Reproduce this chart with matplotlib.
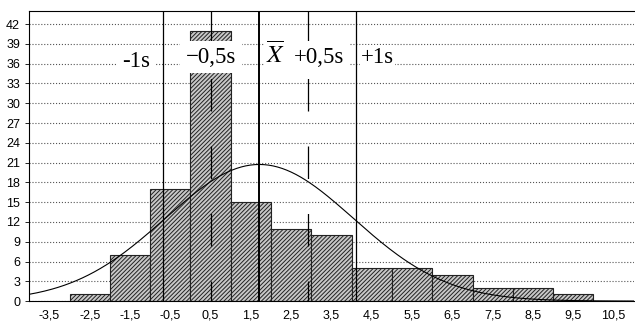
import numpy as np
import matplotlib
matplotlib.use('Agg')
import matplotlib.pyplot as plt

# histogram data (bin edges are integers, labels at bin centres)
bin_left = [-3, -2, -1, 0, 1, 2, 3, 4, 5, 6, 7, 8, 9]
counts = [1, 7, 17, 41, 15, 11, 10, 5, 5, 4, 2, 2, 1]
tick_pos = [-3.5, -2.5, -1.5, -0.5, 0.5, 1.5, 2.5, 3.5, 4.5, 5.5, 6.5, 7.5, 8.5, 9.5, 10.5]
tick_lab = ['-3,5', '-2,5', '-1,5', '-0,5', '0,5', '1,5', '2,5', '3,5',
            '4,5', '5,5', '6,5', '7,5', '8,5', '9,5', '10,5']

# mean / sd marks and the fitted normal curve
mean = 1.71
sd = 2.40
curve_sd = 2.33
n_total = sum(counts)

plt.rcParams['hatch.linewidth'] = 0.7
plt.rcParams['font.family'] = ['Liberation Sans', 'DejaVu Sans']
plt.rcParams['mathtext.fontset'] = 'stix'
fig = plt.figure(figsize=(6.35, 3.22), dpi=100)
ax = fig.add_axes([0.046, 0.065, 0.952, 0.901])

ax.bar(bin_left, counts, width=1, align='edge', color='#c8c8c8',
       edgecolor='#222222', hatch='////////', linewidth=0.8, zorder=2)

xs = np.linspace(-4, 11, 400)
ys = n_total / (curve_sd * np.sqrt(2 * np.pi)) * np.exp(-0.5 * ((xs - mean) / curve_sd) ** 2)
ax.plot(xs, ys, color='black', linewidth=0.8, zorder=4)

# vertical markers, drawn top-down so dashes start at the top
dash = (0, (26, 28))
for k, ls, lw in [(-1, '-', 0.9), (-0.5, dash, 0.9), (0, '-', 1.4),
                  (0.5, dash, 0.9), (1, '-', 0.9)]:
    xv = mean + k * sd
    ax.plot([xv, xv], [44, 0], color='black', linewidth=lw, linestyle=ls, zorder=3)

serif = ['Liberation Serif', 'DejaVu Serif']
box = dict(facecolor='white', edgecolor='none', boxstyle='square,pad=0.25')
ax.text(mean - sd - 0.3, 36.4, '-1s', ha='right', va='center', family=serif,
        fontsize=16.5, zorder=5, bbox=box)
ax.text(mean - 0.5 * sd, 37, '\u22120,5s', ha='center', va='center', family=serif,
        fontsize=16.5, zorder=5, bbox=box)
ax.text(mean + 0.17, 37.4, r'$\overline{X}$', ha='left', va='center',
        fontsize=18, zorder=5,
        bbox=dict(facecolor='white', edgecolor='none', boxstyle='square,pad=0.05'))
ax.text(mean + 0.5 * sd - 0.35, 37, '+0,5s', ha='left', va='center', family=serif,
        fontsize=16.5, zorder=5, bbox=box)
ax.text(mean + sd + 0.12, 37, '+1s', ha='left', va='center', family=serif,
        fontsize=16.5, zorder=5,
        bbox=dict(facecolor='white', edgecolor='none', boxstyle='square,pad=0.05'))

ax.set_xlim(-4, 11)
ax.set_ylim(0, 44)
ax.set_yticks(range(0, 43, 3))
ax.set_xticks(tick_pos)
ax.set_xticklabels(tick_lab)
ax.tick_params(labelsize=9, length=3, width=0.6)
ax.tick_params(axis='x', length=0, pad=6)
ax.grid(axis='y', linestyle=':', color='#555555', linewidth=0.8, zorder=0)
ax.set_axisbelow(True)
ax.spines['right'].set_visible(False)

fig.savefig('out.png', dpi=100)
